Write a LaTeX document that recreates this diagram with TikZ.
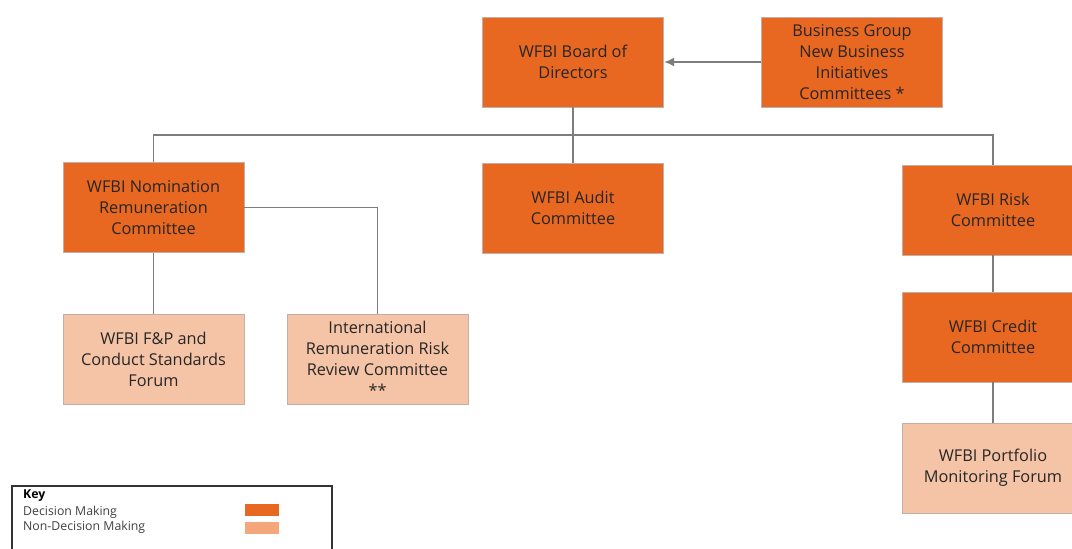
\documentclass[tikz,border=0pt]{standalone}
\usepackage{fontspec}
\setmainfont{Open Sans}
\usetikzlibrary{arrows,arrows.meta,shapes}
\definecolor{wforange}{RGB}{232,103,33}
\definecolor{wflight}{RGB}{245,196,166}
\definecolor{wfkey}{RGB}{243,167,122}
\definecolor{wfline}{RGB}{125,125,125}
\definecolor{wfborder}{RGB}{195,175,165}
\tikzstyle{decision}=[rectangle,draw=wfborder,fill=wforange,minimum width=181pt,minimum height=90pt,inner sep=0pt,align=center,font=\fontsize{16.3}{21}\selectfont,text=black!85]
\tikzstyle{nondecision}=[decision,fill=wflight]
\tikzstyle{link}=[draw,wfline,line width=1.5pt]
\tikzstyle{keytext}=[anchor=west,inner sep=0pt,font=\fontsize{12.3}{14}\selectfont,text=black!75]
\tikzstyle{swatch}=[rectangle,minimum width=34pt,minimum height=12pt,inner sep=0pt]

\begin{document}
\begin{tikzpicture}[x=1pt,y=-1pt]
    \useasboundingbox (0,0) rectangle (1072,549);

    % decision making bodies
    \foreach \x/\y/\name/\txt in {573/62/board/{WFBI Board of\\Directors},
                                  852/62/business/{Business Group\\New Business\\Initiatives\\Committees *},
                                  153.5/207.5/nom/{WFBI Nomination\\Remuneration\\Committee},
                                  573/208/audit/{WFBI Audit\\Committee},
                                  993/210/risk/{WFBI Risk\\Committee},
                                  993/337/credit/{WFBI Credit\\Committee}}
        \node[decision] (\name) at (\x,\y) {\txt};

    % non-decision making bodies
    \foreach \x/\y/\name/\txt in {153.5/359/fp/{WFBI F\&P and\\Conduct Standards\\Forum},
                                  377.5/359/intl/{International\\Remuneration Risk\\Review Committee\\**},
                                  993/468/portfolio/{WFBI Portfolio\\Monitoring Forum}}
        \node[nondecision] (\name) at (\x,\y) {\txt};

    \coordinate (bus) at (573,135);

    \path[link,-{Latex[length=10pt,width=9pt]},shorten >=0.5pt] (business) -- (board);
    \path[link] (board) -- (audit);
    \path[link] (nom) |- (bus) -| (risk);
    \path[link] (nom) -- (fp);
    \path[link] (nom) -| (intl);
    \path[link] (risk) -- (credit);
    \path[link] (credit) -- (portfolio);

    % key
    \draw[black!80, line width=1.2pt] (12,552) |- (332,486) -- (332,552);
    \node[keytext, font=\fontsize{12.3}{14}\selectfont\bfseries, text=black] (key) at (23,496) {Key};
    \node[keytext] (dm) at (23,512) {Decision Making};
    \node[keytext] (ndm) at (23,527.5) {Non-Decision Making};
    \node[swatch, fill=wforange] (dmbox) at (262,510) {};
    \node[swatch, fill=wfkey] (ndmbox) at (262,527.5) {};

\end{tikzpicture}
\end{document}
